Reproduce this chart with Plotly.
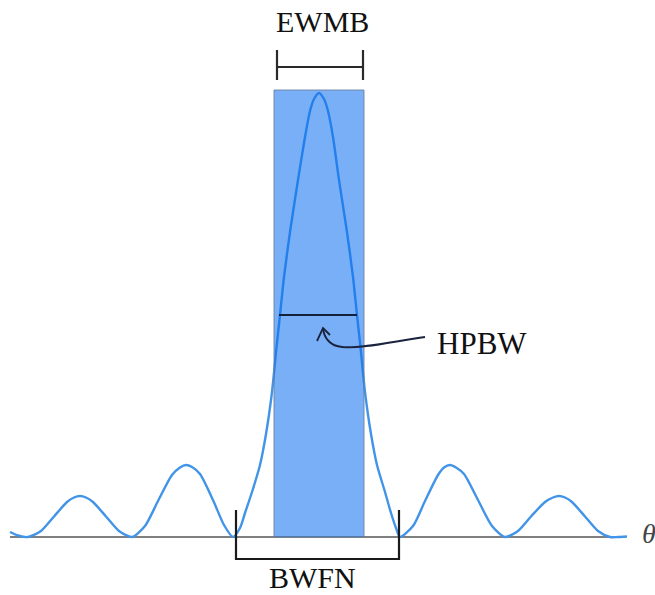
import plotly.graph_objects as go

# Beam pattern samples: angle position and height above the baseline
theta = [10, 18, 28, 41, 54, 67, 74, 80, 86, 93, 106, 119, 132,
         145, 158, 172, 180, 186, 192, 200, 213, 224, 233,
         240, 245, 252, 260, 266, 272, 276, 280, 284, 290, 298, 305, 310, 314, 319,
         324, 328, 333, 339, 347, 353, 357, 361, 365, 371, 377, 385, 391, 396, 400,
         413, 425, 438, 444, 450, 456, 464, 478, 492, 505,
         518, 531, 545, 553, 559, 565, 572, 585, 598, 610, 618, 627]
gain = [5, 1.5, 0, 6, 20.5, 35, 39.5, 41, 39.5, 35, 20.5, 6, 0,
        11, 36, 62, 69.5, 72, 70, 63, 37, 12, 0,
        9, 24, 45, 72, 103, 145, 185, 222, 260, 305, 357, 400, 426, 438, 444,
        438, 426, 400, 357, 305, 260, 222, 185, 145, 103, 72, 45, 24, 9, 0,
        11, 36, 62, 69.5, 72, 69.5, 63, 37, 11, 0,
        6, 20.5, 35, 39.5, 41, 39.5, 35, 20.5, 6, 0, 0, 0.5]

# Beam metrics
ewmb = [274, 364]          # equivalent width of main beam
hpbw = [279, 357]          # half-power beam width span
half_level = 222
bwfn = [236, 399]          # beam width between first nulls
peak_level = 447

fig = go.Figure()

fig.add_trace(go.Scatter(
    x=theta, y=gain, mode="lines",
    line=dict(color="rgb(66,148,232)", width=2.4, shape="spline", smoothing=0.7),
    hoverinfo="skip", showlegend=False,
))

shapes = []
# baseline axis
shapes.append(dict(type="line", x0=10, x1=625, y0=0, y1=0,
                   line=dict(color="#555555", width=1.4), layer="below"))
# equivalent rectangle of the main beam
shapes.append(dict(type="rect", x0=ewmb[0], x1=ewmb[1], y0=0, y1=peak_level,
                   fillcolor="rgba(10,110,238,0.55)",
                   line=dict(color="rgba(110,130,160,0.9)", width=1), layer="above"))
# HPBW marker
shapes.append(dict(type="line", x0=hpbw[0], x1=hpbw[1], y0=half_level, y1=half_level,
                   line=dict(color="#14213d", width=2.2)))
# EWMB bracket
shapes.append(dict(type="line", x0=ewmb[0] + 3, x1=ewmb[1] - 1, y0=470, y1=470,
                   line=dict(color="#2a2a2a", width=2.2)))
for xv in (ewmb[0] + 3, ewmb[1] - 1):
    shapes.append(dict(type="line", x0=xv, x1=xv, y0=457, y1=487,
                       line=dict(color="#2a2a2a", width=2.2)))
# BWFN bracket
shapes.append(dict(type="path",
                   path=f"M {bwfn[0]},27 L {bwfn[0]},-22 L {bwfn[1]},-22 L {bwfn[1]},27",
                   line=dict(color="#1a1a1a", width=2.2)))
# curved pointer from the HPBW label to the half-power line
shapes.append(dict(type="path",
                   path="M 425,200 C 395,196 362,188 342,190 C 331,191 324,198 323,209",
                   line=dict(color="#1a2440", width=2)))
shapes.append(dict(type="path",
                   path="M 317,196 L 323,209 L 330,202",
                   line=dict(color="#1a2440", width=1.8)))

serif = dict(family="Liberation Serif, Times New Roman, serif", size=30, color="#111111")
annotations = [
    dict(x=322, y=516, text="EWMB", showarrow=False, font=serif, xanchor="center", yanchor="middle"),
    dict(x=482, y=194, text="HPBW", showarrow=False, font=dict(serif, size=31),
         xanchor="center", yanchor="middle"),
    dict(x=312, y=-40, text="BWFN", showarrow=False, font=serif, xanchor="center", yanchor="middle"),
    dict(x=640, y=4, text="<i>θ</i>", showarrow=False,
         font=dict(family="Liberation Serif, serif", size=28, color="#444444"),
         xanchor="left", yanchor="middle"),
]

fig.update_layout(
    width=655, height=595,
    margin=dict(l=0, r=0, t=0, b=0),
    paper_bgcolor="white", plot_bgcolor="white",
    xaxis=dict(range=[0, 655], visible=False, fixedrange=True),
    yaxis=dict(range=[-58, 537], visible=False, fixedrange=True),
    shapes=shapes, annotations=annotations,
)

fig.write_html("out.html")
